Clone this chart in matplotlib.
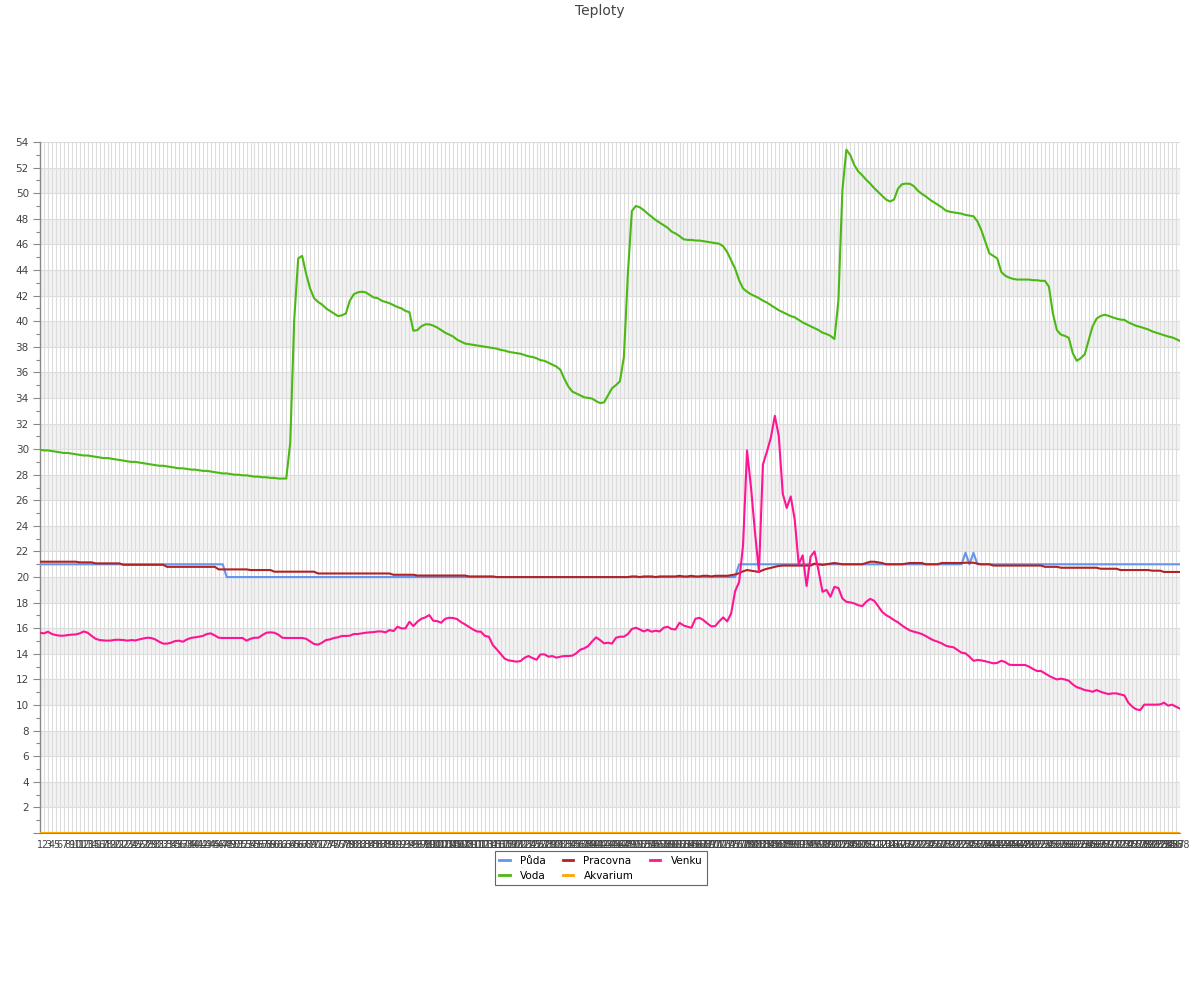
import matplotlib
matplotlib.use('Agg')
import matplotlib.pyplot as plt
import numpy as np

labels = [str(i) for i in range(1, 289)]

puda = [21.0]*47 + [20.0]*129 + [21.0]*57 + [21.9, 21.0, 21.9] + [21.0]*52

voda = [
    29.95, 29.9, 29.9, 29.85, 29.8, 29.75, 29.7, 29.7, 29.65, 29.6,
    29.55, 29.5, 29.5, 29.45, 29.4, 29.35, 29.3, 29.3, 29.25, 29.2,
    29.15, 29.1, 29.05, 29.0, 29.0, 28.95, 28.9, 28.85, 28.8, 28.75,
    28.7, 28.7, 28.65, 28.6, 28.55, 28.5, 28.5, 28.45, 28.4, 28.4,
    28.35, 28.3, 28.3, 28.25, 28.2, 28.15, 28.1, 28.1, 28.05, 28.0,
    28.0, 27.95, 27.95, 27.9, 27.85, 27.85, 27.8, 27.8, 27.75, 27.75,
    27.7, 27.7,
    27.7, 30.5, 40.1, 44.9, 45.1, 43.7, 42.55, 41.8, 41.5, 41.3,
    41.0, 40.8, 40.6, 40.4, 40.45, 40.6, 41.6, 42.1, 42.25, 42.3,
    42.25, 42.05, 41.85, 41.8, 41.6, 41.5, 41.4, 41.25, 41.1, 41.0,
    40.8, 40.7, 39.25, 39.3, 39.6, 39.75, 39.75, 39.65, 39.5, 39.3,
    39.1, 38.95, 38.8, 38.55, 38.4, 38.25, 38.2, 38.15, 38.1, 38.05,
    38.0, 37.95, 37.9, 37.85, 37.75, 37.7, 37.6, 37.55, 37.5, 37.45,
    37.35, 37.25, 37.2, 37.1, 36.95, 36.9, 36.75, 36.6, 36.45, 36.2,
    35.5, 34.9, 34.5, 34.35, 34.2, 34.05, 34.0, 33.95, 33.75, 33.6,
    33.65, 34.2, 34.75, 35.0, 35.3, 37.2, 43.7, 48.6, 49.0, 48.9,
    48.67, 48.4, 48.15, 47.9, 47.7, 47.5, 47.3, 47.0, 46.85, 46.65,
    46.4, 46.35, 46.35, 46.3, 46.3, 46.25, 46.2, 46.15, 46.1, 46.05,
    45.85, 45.4, 44.75, 44.1, 43.2, 42.55, 42.3, 42.1, 41.95, 41.8,
    41.6, 41.45, 41.25, 41.05, 40.85, 40.7, 40.55, 40.4, 40.3, 40.1,
    39.9, 39.75, 39.6, 39.45, 39.3, 39.1, 39.0, 38.85, 38.6, 41.6,
    50.2, 53.4, 52.97, 52.2, 51.7, 51.4, 51.05, 50.75, 50.4, 50.1,
    49.8, 49.5, 49.35, 49.5, 50.35, 50.7, 50.75, 50.73, 50.55, 50.2,
    49.95, 49.75, 49.5, 49.3, 49.1, 48.9, 48.65, 48.55, 48.5, 48.45,
    48.4, 48.3, 48.25, 48.2, 47.8, 47.1, 46.2, 45.3, 45.1, 44.9,
    43.85, 43.55, 43.4, 43.3, 43.25, 43.25, 43.25, 43.25, 43.2, 43.2,
    43.15, 43.15, 42.7, 40.6, 39.3, 38.95, 38.85, 38.7, 37.5, 36.9,
    37.1, 37.4, 38.5, 39.6, 40.2, 40.4, 40.5, 40.42, 40.3, 40.2,
    40.12, 40.1, 39.9, 39.77, 39.63, 39.55, 39.45, 39.35, 39.2, 39.1,
    39.0, 38.9, 38.8, 38.73, 38.6, 38.45,
]

pracovna = ([21.2]*10 + [21.15]*4 + [21.07]*7 + [20.96]*11 + [20.8]*13
            + [20.6]*8 + [20.55]*6 + [20.42]*11 + [20.28]*19 + [20.18]*6
            + [20.12]*13 + [20.05]*7 + [20.0]*34
            + [20.05, 20.05, 20.0, 20.05, 20.05, 20.05, 20.0, 20.05, 20.05,
               20.05, 20.05, 20.05, 20.1, 20.05, 20.05, 20.1, 20.05, 20.05,
               20.1, 20.1, 20.05, 20.1, 20.1, 20.1, 20.1, 20.15, 20.2]
            + [20.3, 20.45, 20.55, 20.5, 20.45, 20.4, 20.55, 20.65, 20.72, 20.8, 20.87]
            + [20.9]*8
            + [21.05, 21.0, 20.95, 21.0, 21.05, 21.1, 21.05]
            + [21.0]*6
            + [21.1, 21.2, 21.2, 21.15, 21.1]
            + [21.0]*5 + [21.05] + [21.1]*4 + [21.0]*4 + [21.1]*6
            + [21.12]*3 + [21.05] + [21.0]*3 + [20.9]*13 + [20.8]*4
            + [20.73]*10 + [20.65]*5 + [20.55]*8 + [20.5]*3 + [20.4]*5)

akvarium = [0.0]*288

venku = [
    15.65, 15.6, 15.73, 15.55, 15.47, 15.42, 15.42, 15.47, 15.5, 15.52,
    15.6, 15.75, 15.65, 15.4, 15.18, 15.08, 15.05, 15.03, 15.05, 15.1,
    15.1, 15.08, 15.03, 15.08, 15.05, 15.13, 15.2, 15.26, 15.24, 15.13,
    14.95, 14.8, 14.8, 14.87, 15.0, 15.03, 14.95, 15.13, 15.24, 15.29,
    15.34, 15.4, 15.55, 15.6, 15.44, 15.26, 15.24, 15.24, 15.24, 15.24,
    15.24, 15.24, 15.03, 15.18, 15.26, 15.26, 15.47, 15.65, 15.68, 15.65,
    15.5, 15.26, 15.24, 15.24, 15.24, 15.24, 15.24, 15.18, 14.98, 14.77,
    14.72, 14.87, 15.08, 15.13, 15.24, 15.29, 15.4, 15.4, 15.42, 15.55,
    15.55, 15.6, 15.65, 15.68, 15.7, 15.75, 15.75, 15.68, 15.86, 15.78,
    16.12, 15.99, 15.99, 16.51, 16.17, 16.51, 16.74, 16.85, 17.03, 16.59,
    16.56, 16.43, 16.74, 16.82, 16.8, 16.72, 16.48, 16.3, 16.1, 15.91,
    15.75, 15.73, 15.4, 15.34, 14.69, 14.35, 13.99, 13.62, 13.49, 13.44,
    13.39, 13.44, 13.7, 13.83, 13.67, 13.54, 13.96, 13.96, 13.78, 13.83,
    13.7, 13.78, 13.83, 13.83, 13.86, 14.04, 14.32, 14.43, 14.61, 14.97,
    15.29, 15.08, 14.82, 14.87, 14.8, 15.26, 15.34, 15.34, 15.55, 15.94,
    16.04, 15.91, 15.75, 15.88, 15.73, 15.81, 15.75, 16.04, 16.12, 15.94,
    15.91, 16.43, 16.22, 16.12, 16.04, 16.74, 16.82, 16.64, 16.38, 16.15,
    16.17, 16.54, 16.85, 16.54, 17.16, 18.9, 19.6, 22.5, 29.9, 27.0,
    23.5, 20.4, 28.8, 29.8, 30.9, 32.6, 31.0, 26.5, 25.4, 26.3,
    24.5, 21.0, 21.7, 19.3, 21.6, 22.0, 20.5, 18.85, 19.0, 18.46,
    19.24, 19.15, 18.33, 18.07, 18.02, 17.94, 17.8, 17.73, 18.07, 18.3,
    18.15, 17.73, 17.29, 17.03, 16.85, 16.64, 16.46, 16.22, 16.01, 15.83,
    15.73, 15.65, 15.55, 15.39, 15.21, 15.05, 14.95, 14.82, 14.64, 14.56,
    14.51, 14.3, 14.09, 14.04, 13.78, 13.46, 13.52, 13.49, 13.42, 13.34,
    13.26, 13.29, 13.46, 13.36, 13.15, 13.13, 13.13, 13.13, 13.13, 13.0,
    12.82, 12.66, 12.66, 12.47, 12.29, 12.13, 12.0, 12.06, 12.0, 11.9,
    11.61, 11.4, 11.3, 11.17, 11.12, 11.04, 11.17, 11.04, 10.94, 10.86,
    10.91, 10.91, 10.83, 10.75, 10.18, 9.87, 9.66, 9.61, 10.03, 10.03,
    10.03, 10.03, 10.05, 10.18, 9.95, 10.03, 9.87, 9.72,
]

series = [
    ("Půda", puda, "#6495ED"),
    ("Voda", voda, "#4CB814"),
    ("Pracovna", pracovna, "#B22222"),
    ("Akvarium", akvarium, "#FFA500"),
    ("Venku", venku, "#FF1493"),
]
for name, vals, _ in series:
    assert len(vals) == len(labels), (name, len(vals))

fig = plt.figure(figsize=(12, 10), dpi=100)
ax = fig.add_axes([40/1200, 1 - 833/1000, 1140/1200, 691/1000])

x = np.arange(len(labels))
ax.set_xlim(0, len(labels) - 1)
ax.set_ylim(0, 54)

# alternating bands
for lo in range(2, 54, 4):
    ax.axhspan(lo, lo + 2, color="#f2f2f2", zorder=0, lw=0)

# grid
for yv in range(2, 55, 2):
    ax.axhline(yv, color="#dddddd", lw=0.8, zorder=0.5)
for xv in x:
    ax.axvline(xv, color="#dddddd", lw=0.8, zorder=0.5)

for name, vals, col in series:
    ax.plot(x, vals, color=col, lw=1.5, label=name, zorder=3, solid_joinstyle='round')

ax.set_yticks(range(0, 55, 2))
ax.set_yticklabels([""] + [str(v) for v in range(2, 55, 2)])
ax.set_yticks(range(1, 54, 2), minor=True)
ax.tick_params(axis='y', which='major', length=5, width=0.8, color="#888888",
               labelsize=7.5, labelcolor="#444444", pad=3)
ax.tick_params(axis='y', which='minor', length=3, width=0.8, color="#888888")
ax.set_xticks(x)
ax.set_xticklabels(labels)
ax.tick_params(axis='x', length=0, labelsize=7, labelcolor="#444444", pad=5)

for s in ["top", "right"]:
    ax.spines[s].set_visible(False)
ax.spines["left"].set_color("#888888")
ax.spines["left"].set_linewidth(1.0)
ax.spines["bottom"].set_color("#888888")

fig.text(0.5, 1 - 11/1000, "Teploty", ha="center", va="center", fontsize=10, color="#444444")

leg = fig.legend(loc="upper center", bbox_to_anchor=(601/1200, 1 - 846/1000), ncol=3,
                 fontsize=7.5, frameon=True, fancybox=False, framealpha=1,
                 edgecolor="#666666", handlelength=1.0, handletextpad=1.0,
                 columnspacing=1.6, labelspacing=0.45, borderpad=0.45)
leg.get_frame().set_linewidth(0.8)
for line in leg.get_lines():
    line.set_linewidth(2)

fig.savefig("out.png", dpi=100)
